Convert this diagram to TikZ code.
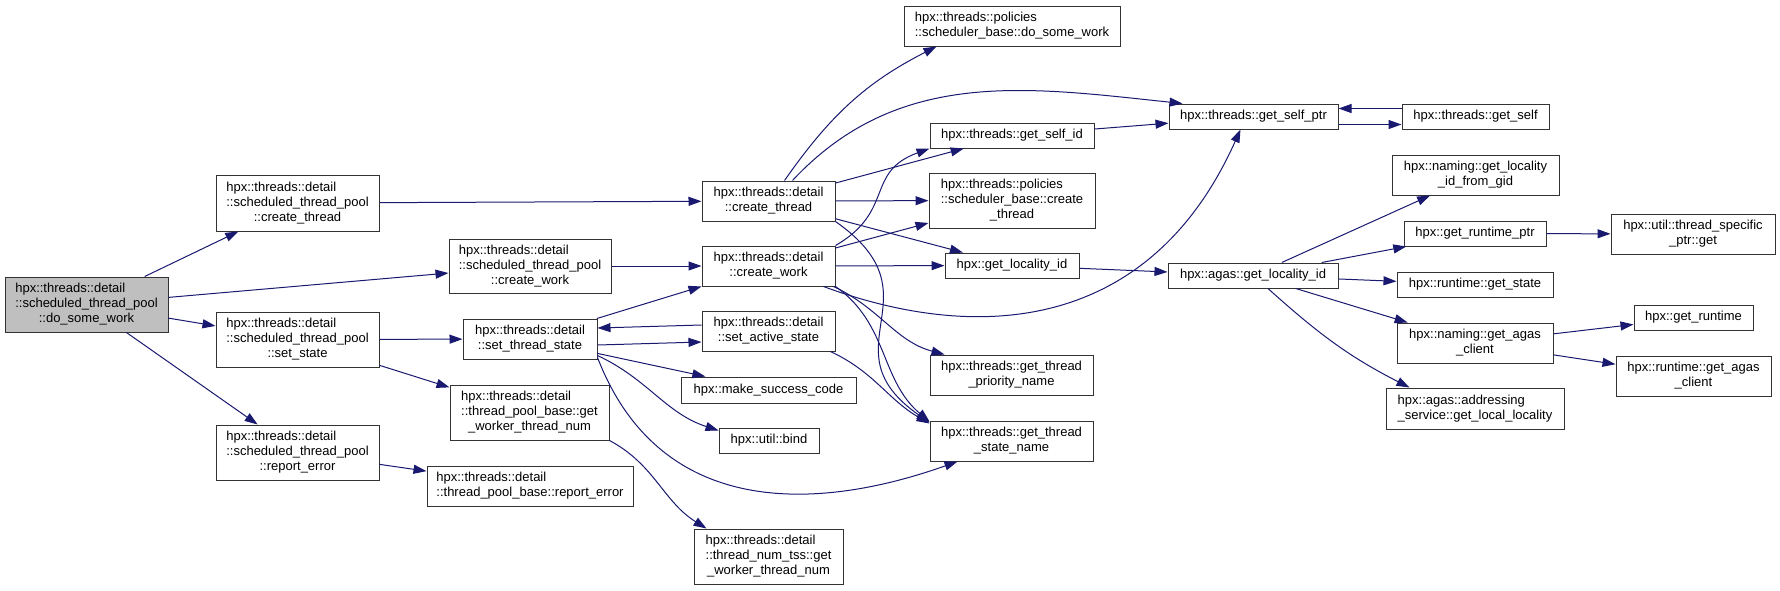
\documentclass[tikz,border=0pt]{standalone}
\usepackage{fontspec}
\setmainfont{Liberation Sans}
\usepackage{tikz}
\usetikzlibrary{arrows.meta}

\definecolor{edgeblue}{RGB}{25,25,112}
\newcommand{\fnlines}[2]{\begin{tabular}{@{}l@{}}#1\\\multicolumn{1}{@{}c@{}}{#2}\end{tabular}}

\begin{document}
\begin{tikzpicture}[x=1pt, y=1pt,
    fn/.style 2 args={draw=black!80, line width=1pt, inner sep=0pt,
        minimum width=#1pt, minimum height=#2pt, font=\fontsize{13}{15}\selectfont},
    rootfn/.style={fill=black!25},
    calls/.style={draw=edgeblue, line width=1pt, -{Triangle[length=13pt,width=9pt]}}]
    \useasboundingbox (0,0) rectangle (1780,-590);

    \node[fn={163}{55}, rootfn] (dsw) at (86.5,-304.5) {\fnlines{hpx::threads::detail\\::scheduled\_thread\_pool}{::do\_some\_work}};
    \node[fn={163}{56}] (sct) at (297.5,-203) {\fnlines{hpx::threads::detail\\::scheduled\_thread\_pool}{::create\_thread}};
    \node[fn={163}{55}] (sss) at (297.5,-339.5) {\fnlines{hpx::threads::detail\\::scheduled\_thread\_pool}{::set\_state}};
    \node[fn={163}{55}] (sre) at (297.5,-452.5) {\fnlines{hpx::threads::detail\\::scheduled\_thread\_pool}{::report\_error}};
    \node[fn={162}{54}] (scw) at (530,-266) {\fnlines{hpx::threads::detail\\::scheduled\_thread\_pool}{::create\_work}};
    \node[fn={134}{40}] (sts) at (530,-339) {\fnlines{hpx::threads::detail}{::set\_thread\_state}};
    \node[fn={159}{55}] (gwn) at (529.5,-412.5) {\fnlines{hpx::threads::detail\\::thread\_pool\_base::get}{\_worker\_thread\_num}};
    \node[fn={206}{40}] (pre) at (530,-486) {\fnlines{hpx::threads::detail}{::thread\_pool\_base::report\_error}};
    \node[fn={133}{40}] (dct) at (768.5,-201) {\fnlines{hpx::threads::detail}{::create\_thread}};
    \node[fn={133}{40}] (dcw) at (768.5,-266) {\fnlines{hpx::threads::detail}{::create\_work}};
    \node[fn={133}{40}] (sas) at (768.5,-331) {\fnlines{hpx::threads::detail}{::set\_active\_state}};
    \node[fn={175}{26}] (msc) at (768.5,-390) {hpx::make\_success\_code};
    \node[fn={100}{25}] (bnd) at (769,-440.5) {hpx::util::bind};
    \node[fn={149}{55}] (tss) at (768.5,-556.5) {\fnlines{hpx::threads::detail\\::thread\_num\_tss::get}{\_worker\_thread\_num}};
    \node[fn={216}{40}] (pdw) at (1012,-26) {\fnlines{hpx::threads::policies}{::scheduler\_base::do\_some\_work}};
    \node[fn={164}{25}] (gsi) at (1012,-135.5) {hpx::threads::get\_self\_id};
    \node[fn={166}{55}] (pct) at (1012,-200.5) {\fnlines{hpx::threads::policies\\::scheduler\_base::create}{\_thread}};
    \node[fn={134}{25}] (gli) at (1012,-265.5) {hpx::get\_locality\_id};
    \node[fn={163}{40}] (gtp) at (1011.5,-375) {\fnlines{hpx::threads::get\_thread}{\_priority\_name}};
    \node[fn={163}{40}] (gtsn) at (1011.5,-441) {\fnlines{hpx::threads::get\_thread}{\_state\_name}};
    \node[fn={169}{25}] (gsp) at (1253.5,-116.5) {hpx::threads::get\_self\_ptr};
    \node[fn={170}{25}] (ali) at (1253,-275.5) {hpx::agas::get\_locality\_id};
    \node[fn={147}{25}] (gs) at (1475.5,-116.5) {hpx::threads::get\_self};
    \node[fn={167}{40}] (nlg) at (1475.5,-175) {\fnlines{hpx::naming::get\_locality}{\_id\_from\_gid}};
    \node[fn={142}{25}] (grp) at (1475,-233.5) {hpx::get\_runtime\_ptr};
    \node[fn={156}{25}] (rgs) at (1475,-284.5) {hpx::runtime::get\_state};
    \node[fn={156}{40}] (nac) at (1475,-343) {\fnlines{hpx::naming::get\_agas}{\_client}};
    \node[fn={178}{41}] (asl) at (1475,-408.5) {\fnlines{hpx::agas::addressing}{\_service::get\_local\_locality}};
    \node[fn={164}{40}] (tsp) at (1693,-234) {\fnlines{hpx::util::thread\_specific}{\_ptr::get}};
    \node[fn={119}{25}] (gr) at (1693.5,-317.5) {hpx::get\_runtime};
    \node[fn={155}{40}] (rac) at (1693.5,-376) {\fnlines{hpx::runtime::get\_agas}{\_client}};

    \draw[calls] (dsw) -- (sct);
    \draw[calls] (dsw) -- (scw);
    \draw[calls] (dsw) -- (sss);
    \draw[calls] (dsw) -- (sre);
    \draw[calls] (sct) -- (dct);
    \draw[calls] (scw) -- (dcw);
    \draw[calls] (sss) -- (sts);
    \draw[calls] (sss) -- (gwn);
    \draw[calls] (sre) -- (pre);
    \draw[calls] (gwn.south east) to[out=-28,in=148] ([xshift=13pt]tss.north west);

    \draw[calls] (sts) -- (dcw);
    \draw[calls] ([yshift=-6pt]sts.east) -- ([yshift=-11pt]sas.west);
    \draw[calls] ([yshift=6pt]sas.west) -- ([yshift=11pt]sts.east);
    \draw[calls] (sts) -- (msc);
    \draw[calls] ([yshift=4pt]sts.south east) to[out=-25,in=162] ([yshift=-3pt]bnd.north west);
    \draw[calls] ([yshift=2pt]sts.south east) .. controls +(63,-163) and +(-138,-49) .. ([xshift=-54pt]gtsn.south);

    \draw[calls] ([xshift=16pt]dct.north) to[out=55,in=-153] ([xshift=33pt]pdw.south west);
    \draw[calls] ([xshift=24pt]dct.north) to[out=47,in=174] ([xshift=14pt]gsp.north west);
    \draw[calls] (dct) -- (gsi);
    \draw[calls] (dct) -- (pct);
    \draw[calls] (dct) -- (gli);
    \draw[calls] (dct.south east) to[out=-35,in=145,looseness=1.5] ([yshift=-2pt]gtsn.north west);

    \draw[calls] (dcw.north east) to[out=30,in=-160,looseness=1.3] (gsi.south west);
    \draw[calls] (dcw) -- (pct);
    \draw[calls] (dcw) -- (gli);
    \draw[calls] ([xshift=-12pt]dcw.south east) .. controls +(157,-58) and +(-90,-201) .. ([xshift=-13pt]gsp.south);
    \draw[calls] ([xshift=-2pt]dcw.south east) to[out=-25,in=165] ([xshift=15pt]gtp.north west);
    \draw[calls] (dcw.south east) to[out=-35,in=140] ([yshift=-1pt]gtsn.north west);
    \draw[calls] ([xshift=-5pt]sas.south east) to[out=-25,in=150] ([yshift=-3pt]gtsn.north west);

    \draw[calls] (gsi) -- (gsp);
    \draw[calls] ([yshift=8pt]gs.west) -- ([yshift=8pt]gsp.east);
    \draw[calls] ([yshift=-8pt]gsp.east) -- ([yshift=-8pt]gs.west);
    \draw[calls] (gli) -- (ali);
    \draw[calls] (ali) -- (nlg);
    \draw[calls] (ali) -- (grp);
    \draw[calls] (ali) -- (rgs);
    \draw[calls] (ali) -- (nac);
    \draw[calls] ([xshift=15pt]ali.south) to[out=-42,in=153] ([xshift=24pt]asl.north west);
    \draw[calls] (grp) -- (tsp);
    \draw[calls] (nac) -- (gr);
    \draw[calls] (nac) -- (rac);
\end{tikzpicture}
\end{document}
